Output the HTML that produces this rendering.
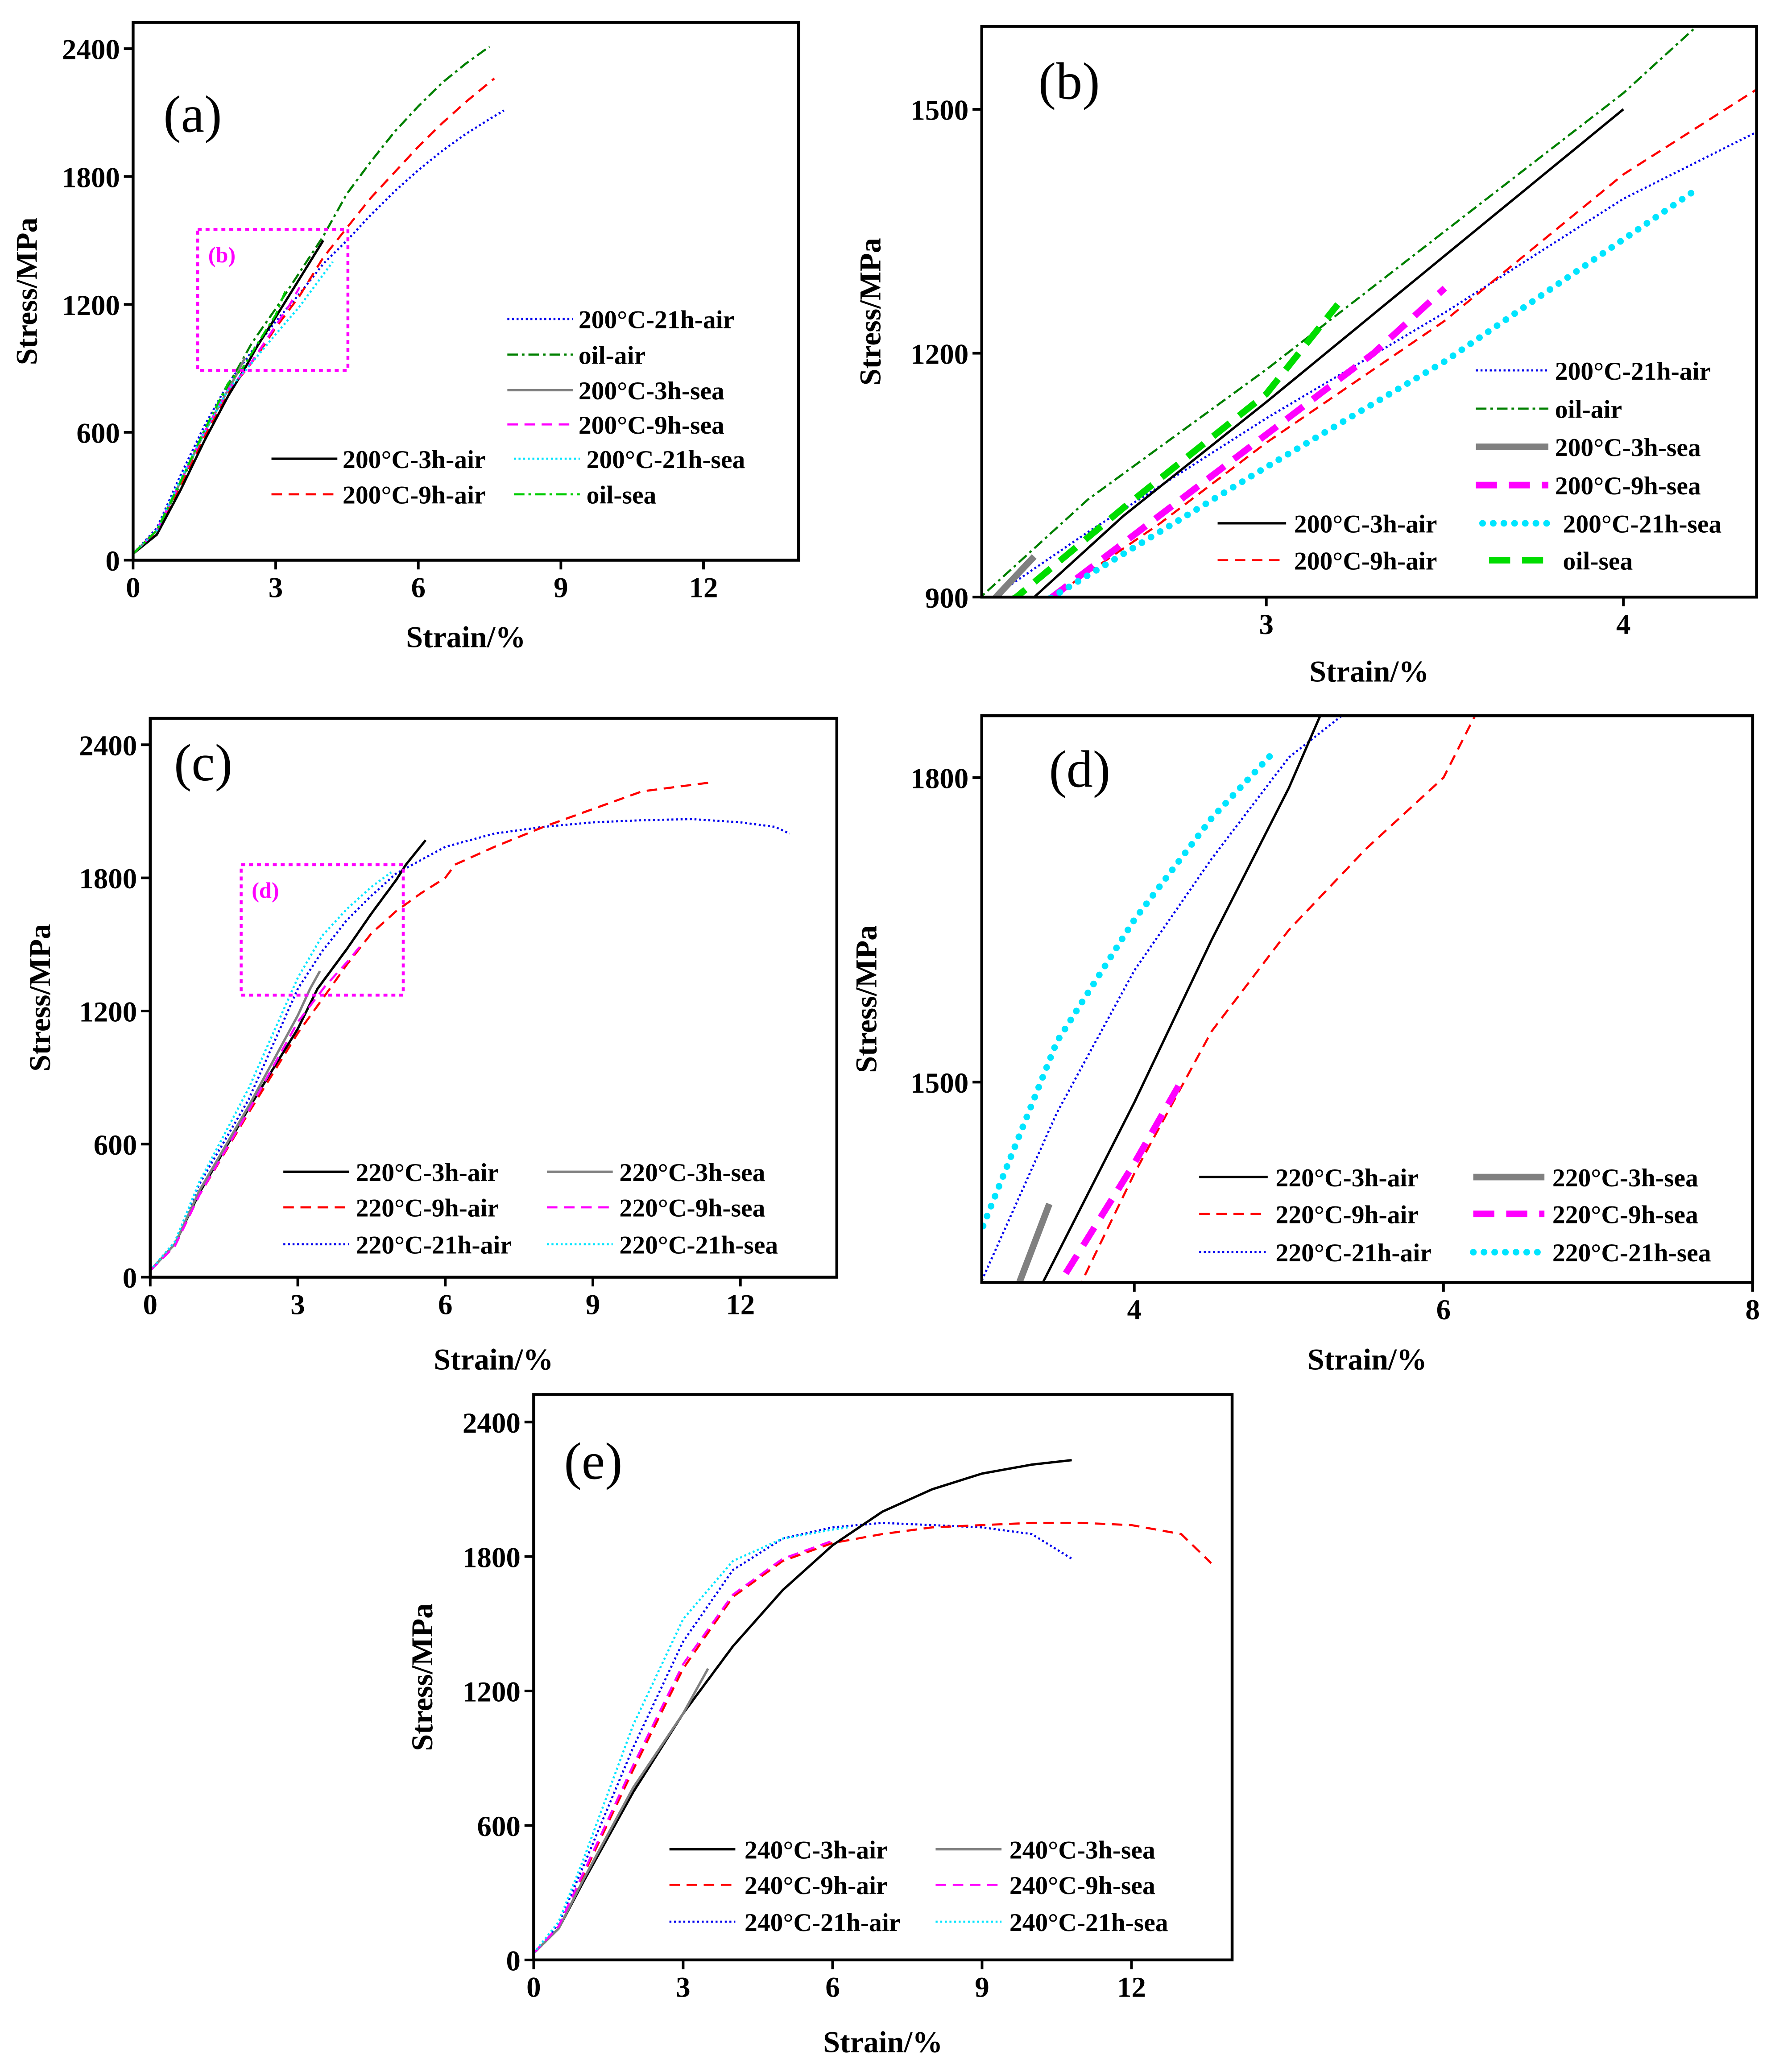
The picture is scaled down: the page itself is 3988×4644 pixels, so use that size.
<!DOCTYPE html>
<html><head><meta charset="utf-8"><style>
html,body{margin:0;padding:0;background:#fff;width:3988px;height:4644px;overflow:hidden}
svg{display:block}
text{font-family:"Liberation Serif",serif;font-weight:bold;fill:#000}
</style></head><body>
<svg id="fig" width="3988" height="4644" viewBox="0 0 1350 1572" xmlns="http://www.w3.org/2000/svg"></svg>
<script>
// ===== 200°C data (strain %, stress MPa) =====
const a21air=[[0,30],[0.5,150],[1,400],[1.5,630],[2,830],[2.5,980],[3,1120],[3.5,1250],[4,1390],[4.5,1500],[5,1620],[5.5,1730],[6,1830],[6.5,1920],[7,2000],[7.5,2070],[7.8,2110]];
const aOilAir=[[0,30],[0.5,140],[1,360],[1.5,600],[2,820],[2.2,900],[2.5,1020],[3,1180],[3.5,1350],[4,1520],[4.5,1720],[5,1870],[5.5,2010],[6,2130],[6.5,2240],[7,2330],[7.5,2410]];
const a3sea=[[0,30],[0.5,140],[1,370],[1.5,600],[2,800],[2.2,880],[2.35,950]];
const a9sea=[[0,30],[0.5,140],[1,370],[1.5,600],[2,800],[2.4,900],[2.7,1000],[3,1100],[3.3,1200],[3.5,1280]];
const a3air=[[0,30],[0.5,120],[1,330],[1.5,560],[2,770],[2.35,900],[2.6,1000],[3,1140],[3.5,1320],[4,1500]];
const a21sea=[[0,30],[0.5,140],[1,380],[1.5,600],[2,800],[2.4,900],[2.7,980],[3,1060],[3.5,1190],[4,1340],[4.2,1400]];
const a9air=[[0,30],[0.5,130],[1,350],[1.5,580],[2,790],[2.4,900],[2.7,990],[3,1090],[3.5,1240],[4,1420],[4.5,1560],[5,1700],[5.5,1820],[6,1940],[6.5,2050],[7,2150],[7.6,2260]];
const aOilSea=[[0,30],[0.5,140],[1,370],[1.5,610],[2,830],[2.3,900],[2.6,1010],[3,1150],[3.2,1260]];
// ===== 220°C data =====
const c3air=[[0,30],[0.5,150],[1,380],[2,760],[3,1120],[3.4,1300],[4,1480],[4.5,1640],[5,1790],[5.2,1860],[5.6,1970]];
const c9air=[[0,30],[0.5,140],[1,370],[2,740],[3,1100],[3.65,1300],[4,1410],[4.5,1550],[5,1650],[5.5,1730],[6,1800],[6.2,1860],[7,1940],[8,2030],[9,2110],[10,2190],[11.4,2230]];
const c21air=[[0,30],[0.5,160],[1,420],[2,800],[3,1300],[3.5,1470],[4,1610],[4.5,1720],[5,1820],[6,1940],[7,2000],[8,2030],[9,2050],[10,2060],[11,2065],[12,2050],[12.7,2030],[13,2000]];
const c3sea=[[0,30],[0.5,150],[1,390],[2,770],[3,1180],[3.25,1300],[3.45,1380]];
const c9sea=[[0,30],[0.5,140],[1,370],[2,750],[3,1150],[3.55,1310],[4,1420],[4.3,1500]];
const c21sea=[[0,30],[0.5,160],[1,430],[2,850],[3,1350],[3.5,1540],[4,1660],[4.5,1760],[4.9,1825]];
// ===== 240°C data =====
const e3air=[[0,30],[0.5,140],[1,350],[2,750],[3,1100],[4,1400],[5,1650],[6,1850],[7,2000],[8,2100],[9,2170],[10,2210],[10.8,2230]];
const e9air=[[0,30],[0.5,150],[1,380],[2,850],[3,1300],[4,1620],[5,1780],[6,1860],[7,1900],[8,1930],[9,1940],[10,1950],[11,1950],[12,1940],[13,1900],[13.6,1770]];
const e21air=[[0,30],[0.5,160],[1,420],[2,950],[3,1420],[4,1740],[5,1880],[6,1930],[7,1950],[8,1940],[9,1930],[10,1900],[10.8,1790]];
const e3sea=[[0,30],[0.5,140],[1,360],[2,770],[3,1100],[3.5,1300]];
const e9sea=[[0,30],[0.5,150],[1,390],[2,870],[3,1320],[4,1630],[5,1790],[6,1870]];
const e21sea=[[0,30],[0.5,170],[1,450],[2,1050],[3,1520],[4,1780],[5,1880],[6,1920],[6.3,1930]];
// ticks
const xTicksA=[0,3,6,9,12], yTicksA=[0,600,1200,1800,2400];
const xTicksB=[3,4], yTicksB=[900,1200,1500];
const xTicksD=[4,6,8], yTicksD=[1500,1800];

const NS="http://www.w3.org/2000/svg";
const svg=document.getElementById('fig');
function mk(tag,at,parent){const e=document.createElementNS(NS,tag);for(const k in at)e.setAttribute(k,at[k]);(parent||svg).appendChild(e);return e;}
let clipN=0;
const S={
 blue:{stroke:"#0000ee",w:1.6,dash:"1.5 2"},
 green:{stroke:"#008000",w:1.6,dash:"8 3 2 3"},
 black:{stroke:"#000",w:1.8,dash:""},
 red:{stroke:"#ff0000",w:1.6,dash:"8 5"},
 gray:{stroke:"#808080",w:1.8,dash:""},
 mag:{stroke:"#ff00ff",w:1.6,dash:"8 5"},
 cyan:{stroke:"#00e5ff",w:1.6,dash:"1.5 2"},
 lime:{stroke:"#00cc00",w:1.6,dash:"8 3 2 3"},
 grayT:{stroke:"#808080",w:5,dash:""},
 magT:{stroke:"#ff00ff",w:5,dash:"16 9"},
 cyanT:{stroke:"#00e5ff",w:5,dash:"0.1 8",cap:"round"},
 limeT:{stroke:"#00dd00",w:5,dash:"16 9"}
};
function panel(p){
 const g=mk('g',{});
 
 
 const X=v=>p.x0+(v-p.xmin)/(p.xmax-p.xmin)*(p.x1-p.x0);
 const Y=v=>p.y1-(v-p.ymin)/(p.ymax-p.ymin)*(p.y1-p.y0);
 const cid='clip'+(clipN++);
 const cp=mk('clipPath',{id:cid},g);mk('rect',{x:p.x0,y:p.y0,width:p.x1-p.x0,height:p.y1-p.y0},cp);
 const lines=mk('g',{'clip-path':`url(#${cid})`},g);
 p.series.forEach(s=>{
  const st=S[s.style];
  const d=s.data.map((q,i)=>(i?'L':'M')+X(q[0]).toFixed(1)+','+Y(q[1]).toFixed(1)).join('');
  const el=mk('path',{d:d,fill:'none',stroke:st.stroke,'stroke-width':st.w,'stroke-dasharray':st.dash,'stroke-linecap':st.cap||'butt','stroke-linejoin':'round'},lines);
  
  
 });
 const box=mk('rect',{x:p.x0,y:p.y0,width:p.x1-p.x0,height:p.y1-p.y0,fill:'none',stroke:'#000','stroke-width':2.2},g);
 
 
 p.xt.forEach(v=>{const x=X(v);mk('line',{x1:x,x2:x,y1:p.y1,y2:p.y1+7,stroke:'#000','stroke-width':2},g);
  const t=mk('text',{x:x,y:p.y1+28,'text-anchor':'middle','font-size':22},g);t.textContent=v;
  
  });
 p.yt.forEach(v=>{const y=Y(v);mk('line',{x1:p.x0-7,x2:p.x0,y1:y,y2:y,stroke:'#000','stroke-width':2},g);
  const t=mk('text',{x:p.x0-10,y:y+8,'text-anchor':'end','font-size':22},g);t.textContent=v;
  
  });
 const xt=mk('text',{x:(p.x0+p.x1)/2,y:p.y1+p.xtOff,'text-anchor':'middle','font-size':23},g);xt.textContent='Strain/%';
 
 
 const yx=p.ytx, yy=(p.y0+p.y1)/2;
 const yt=mk('text',{x:yx,y:yy,'text-anchor':'middle','font-size':23,transform:`rotate(-90 ${yx} ${yy})`},g);yt.textContent='Stress/MPa';
 
 
 const pl=mk('text',{x:p.lx,y:p.ly,'font-size':40,style:'font-weight:normal'},g);pl.textContent=p.label;
 
 
 p.legend.forEach(L=>{const st=S[L.style];
  const lg=mk('g',{},g);
  
  
  mk('line',{x1:L.lx1,x2:L.lx2,y1:L.y,y2:L.y,stroke:st.stroke,'stroke-width':st.w,'stroke-dasharray':st.dash,'stroke-linecap':st.cap||'butt'},lg);
  const t=mk('text',{x:L.tx,y:L.y+7,'font-size':19.5},lg);t.textContent=L.text;});
 if(p.zoom){const z=p.zoom;
  const r=mk('rect',{x:z.x,y:z.y,width:z.w,height:z.h,fill:'none',stroke:'#ff00ff','stroke-width':2.2,'stroke-dasharray':'3 3'},g);
  
  
  const t=mk('text',{x:z.x+8,y:z.y+25,'font-size':17,style:'fill:#ff00ff'},g);t.textContent=z.label;
  
  }
}
function leg(rows){return rows.map(r=>({style:r[0],text:r[1],y:r[2],lx1:r[3],lx2:r[4],tx:r[5]}));}
const A=[
 {name:'200-21h-air',data:a21air,style:'blue'},{name:'oil-air',data:aOilAir,style:'green'},
 {name:'200-9h-air',data:a9air,style:'red'},{name:'200-3h-air',data:a3air,style:'black'}];
panel({id:'a',x0:101,x1:606,y0:17,y1:425,xmin:0,xmax:14,ymin:0,ymax:2523,xt:xTicksA,yt:yTicksA,xtOff:66,ytx:28,lx:124,ly:100,label:'(a)',
 series:A.concat([{name:'200-3h-sea',data:a3sea,style:'gray'},{name:'200-9h-sea',data:a9sea,style:'mag'},{name:'200-21h-sea',data:a21sea,style:'cyan'},{name:'oil-sea',data:aOilSea,style:'lime'}]),
 legend:leg([['blue','200°C-21h-air',242,385,435,439],['green','oil-air',269,385,435,439],['gray','200°C-3h-sea',296,385,435,439],['mag','200°C-9h-sea',322,385,435,439],
  ['black','200°C-3h-air',348,206,256,260],['red','200°C-9h-air',375,206,256,260],['cyan','200°C-21h-sea',348,390,440,445],['lime','oil-sea',375,390,440,445]]),
 zoom:{x:150,y:174,w:114,h:107,label:'(b)'}});
panel({id:'b',x0:745,x1:1333,y0:20,y1:453,xmin:2.203,xmax:4.373,ymin:900,ymax:1602,xt:xTicksB,yt:yTicksB,xtOff:64,ytx:668,lx:788,ly:75,label:'(b)',
 series:A.concat([{name:'200-3h-sea',data:a3sea,style:'grayT'},{name:'200-9h-sea',data:a9sea,style:'magT'},{name:'200-21h-sea',data:a21sea,style:'cyanT'},{name:'oil-sea',data:aOilSea,style:'limeT'}]),
 legend:leg([['blue','200°C-21h-air',281,1120,1175,1180],['green','oil-air',310,1120,1175,1180],['grayT','200°C-3h-sea',339,1120,1175,1180],['magT','200°C-9h-sea',368,1120,1175,1180],
  ['black','200°C-3h-air',397,924,976,982],['red','200°C-9h-air',425,924,976,982],['cyanT','200°C-21h-sea',397,1125,1180,1186],['limeT','oil-sea',425,1130,1180,1186]])});
const C=[{name:'220-21h-air',data:c21air,style:'blue'},{name:'220-9h-air',data:c9air,style:'red'},{name:'220-3h-air',data:c3air,style:'black'}];
panel({id:'c',x0:114,x1:635,y0:545,y1:969,xmin:0,xmax:13.96,ymin:0,ymax:2519,xt:xTicksA,yt:yTicksA,xtOff:70,ytx:38,lx:132,ly:592,label:'(c)',
 series:C.concat([{name:'220-3h-sea',data:c3sea,style:'gray'},{name:'220-9h-sea',data:c9sea,style:'mag'},{name:'220-21h-sea',data:c21sea,style:'cyan'}]),
 legend:leg([['black','220°C-3h-air',889,215,265,270],['red','220°C-9h-air',916,215,265,270],['blue','220°C-21h-air',944,215,265,270],
  ['gray','220°C-3h-sea',889,415,465,470],['mag','220°C-9h-sea',916,415,465,470],['cyan','220°C-21h-sea',944,415,465,470]]),
 zoom:{x:183,y:656,w:123,h:99,label:'(d)'}});
panel({id:'d',x0:745,x1:1330,y0:543,y1:973,xmin:3.013,xmax:8,ymin:1302.6,ymax:1861,xt:xTicksD,yt:yTicksD,xtOff:66,ytx:665,lx:796,ly:597,label:'(d)',
 series:C.concat([{name:'220-3h-sea',data:c3sea,style:'grayT'},{name:'220-9h-sea',data:c9sea,style:'magT'},{name:'220-21h-sea',data:c21sea,style:'cyanT'}]),
 legend:leg([['black','220°C-3h-air',893,910,962,968],['red','220°C-9h-air',921,910,962,968],['blue','220°C-21h-air',950,910,962,968],
  ['grayT','220°C-3h-sea',893,1118,1172,1178],['magT','220°C-9h-sea',921,1118,1172,1178],['cyanT','220°C-21h-sea',950,1118,1172,1178]])});
panel({id:'e',x0:405,x1:935,y0:1058,y1:1487,xmin:0,xmax:14.02,ymin:0,ymax:2523,xt:xTicksA,yt:yTicksA,xtOff:70,ytx:328,lx:428,ly:1122,label:'(e)',
 series:[{name:'240-21h-air',data:e21air,style:'blue'},{name:'240-9h-air',data:e9air,style:'red'},{name:'240-3h-air',data:e3air,style:'black'},
  {name:'240-3h-sea',data:e3sea,style:'gray'},{name:'240-9h-sea',data:e9sea,style:'mag'},{name:'240-21h-sea',data:e21sea,style:'cyan'}],
 legend:leg([['black','240°C-3h-air',1403,508,558,565],['red','240°C-9h-air',1430,508,558,565],['blue','240°C-21h-air',1458,508,558,565],
  ['gray','240°C-3h-sea',1403,710,760,766],['mag','240°C-9h-sea',1430,710,760,766],['cyan','240°C-21h-sea',1458,710,760,766]])});
</script>
</body></html>
